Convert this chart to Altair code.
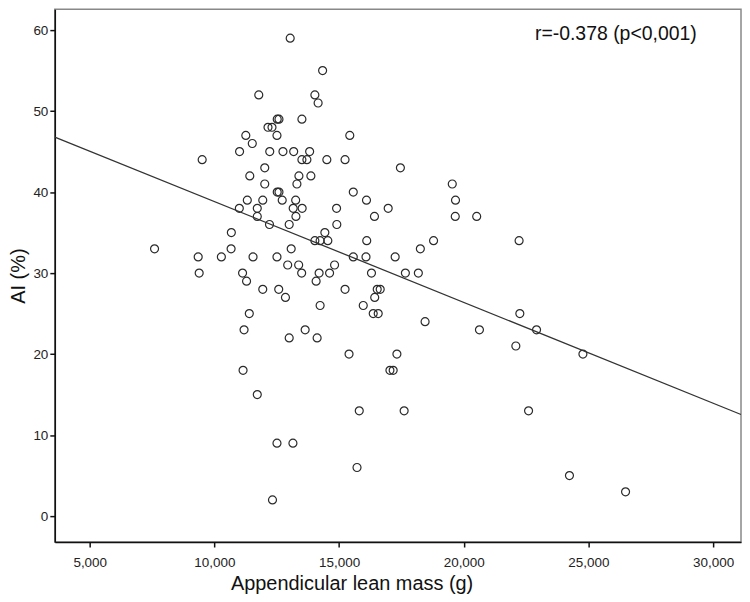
import altair as alt
import pandas as pd

# Appendicular lean mass (g)
lean_mass = [
    7600, 9350, 9390, 9510, 10280, 10670, 10680, 11010, 11000, 11260,
    11320, 11130, 11290, 11520, 11420, 11550, 11190, 11400, 11150, 13040,
    14340, 11780, 14030, 14160, 12520, 12590, 13510, 12150, 12310, 12510,
    12220, 12750, 13180, 13820, 13510, 13710, 14510, 15240, 12020, 13390,
    13870, 12020, 13310, 12520, 12590, 11940, 12720, 13260, 15430, 17460,
    19540, 15570, 16100, 19670, 11720, 13160, 13520, 14900, 11720, 13270,
    12210, 13000, 14910, 14430, 14030, 14240, 14550, 13080, 12510, 12940,
    13380, 13500, 11940, 12580, 12850, 14200, 14080, 14620, 14820, 14240,
    13000, 13640, 14120, 16970, 16420, 19660, 20520, 16110, 18790, 18260,
    15570, 16080, 17250, 16300, 17660, 18180, 15240, 16530, 16650, 16430,
    15970, 16370, 16570, 18450, 20630, 15400, 17320, 17040, 17170, 11720,
    12510, 13150, 12330, 15810, 17610, 15720, 22250, 22920, 22090, 24780,
    22600, 24240, 26490, 22220,
]
# AI (%)
ai_pct = [
    33, 32, 30, 44, 32, 33, 35, 45, 38, 47,
    39, 30, 29, 46, 42, 32, 23, 25, 18, 59,
    55, 52, 52, 51, 49, 49, 49, 48, 48, 47,
    45, 45, 45, 45, 44, 44, 44, 44, 43, 42,
    42, 41, 41, 40, 40, 39, 39, 39, 47, 43,
    41, 40, 39, 39, 38, 38, 38, 38, 37, 37,
    36, 36, 36, 35, 34, 34, 34, 33, 32, 31,
    31, 30, 28, 28, 27, 30, 29, 30, 31, 26,
    22, 23, 22, 38, 37, 37, 37, 34, 34, 33,
    32, 32, 32, 30, 30, 30, 28, 28, 28, 27,
    26, 25, 25, 24, 23, 20, 20, 18, 18, 15,
    9, 9, 2, 13, 13, 6, 25, 23, 21, 20,
    13, 5, 3, 34,
]

x_domain = [3600, 31120]
y_domain = [-3.2, 62.58]
x_ticks = [5000, 10000, 15000, 20000, 25000, 30000]
y_ticks = [0, 10, 20, 30, 40, 50, 60]

note_text = ["r=-0.378 (p<0,001)"]
note_x = [26100]
note_y = [59.5]

df = pd.DataFrame({"lean_mass": lean_mass, "ai": ai_pct})
note_df = pd.DataFrame({"label": note_text, "lean_mass": note_x, "ai": note_y})

FONT = "Liberation Sans"

x_enc = alt.X(
    "lean_mass:Q",
    scale=alt.Scale(domain=x_domain, nice=False, zero=False),
    axis=alt.Axis(
        values=x_ticks,
        labelExpr="floor(datum.value / 1000) + ',000'",
        title="Appendicular lean mass (g)",
        titleX=298,
        titleAlign="center",
    ),
)
y_enc = alt.Y(
    "ai:Q",
    scale=alt.Scale(domain=y_domain, nice=False, zero=False),
    axis=alt.Axis(values=y_ticks, labelExpr="'' + round(datum.value)", title="AI (%)"),
)

points = alt.Chart(df).mark_point(
    shape="circle", filled=False, size=64, stroke="#2a2a2a", strokeWidth=1.2, opacity=1
).encode(x=x_enc, y=y_enc)

fit = alt.Chart(df).transform_regression(
    "lean_mass", "ai", extent=x_domain
).mark_line(color="#333333", strokeWidth=1.3, clip=True).encode(x=x_enc, y=y_enc)

note = alt.Chart(note_df).mark_text(
    fontSize=19.5, font=FONT, color="#111111", align="center", baseline="middle"
).encode(x=x_enc, y=y_enc, text="label:N")

chart = alt.layer(points, fit, note).properties(
    width=689, height=535,
    padding={"left": 0, "top": 0, "right": 1, "bottom": 0},
).configure_view(
    stroke="#888888", strokeWidth=1.5
).configure_axis(
    domainColor="#111111", domainWidth=1.5, tickColor="#111111", tickWidth=1.5,
    tickSize=5, labelFont=FONT, labelFontSize=13.5, labelColor="#222222",
    titleFont=FONT, titleFontSize=20, titleFontWeight="normal", titleColor="#111111",
    grid=False,
).configure_axisY(titlePadding=4, labelPadding=2).configure_axisX(
    titlePadding=4, labelPadding=9
)

chart.save("out.html", embed_options={"renderer": "svg", "actions": False})
